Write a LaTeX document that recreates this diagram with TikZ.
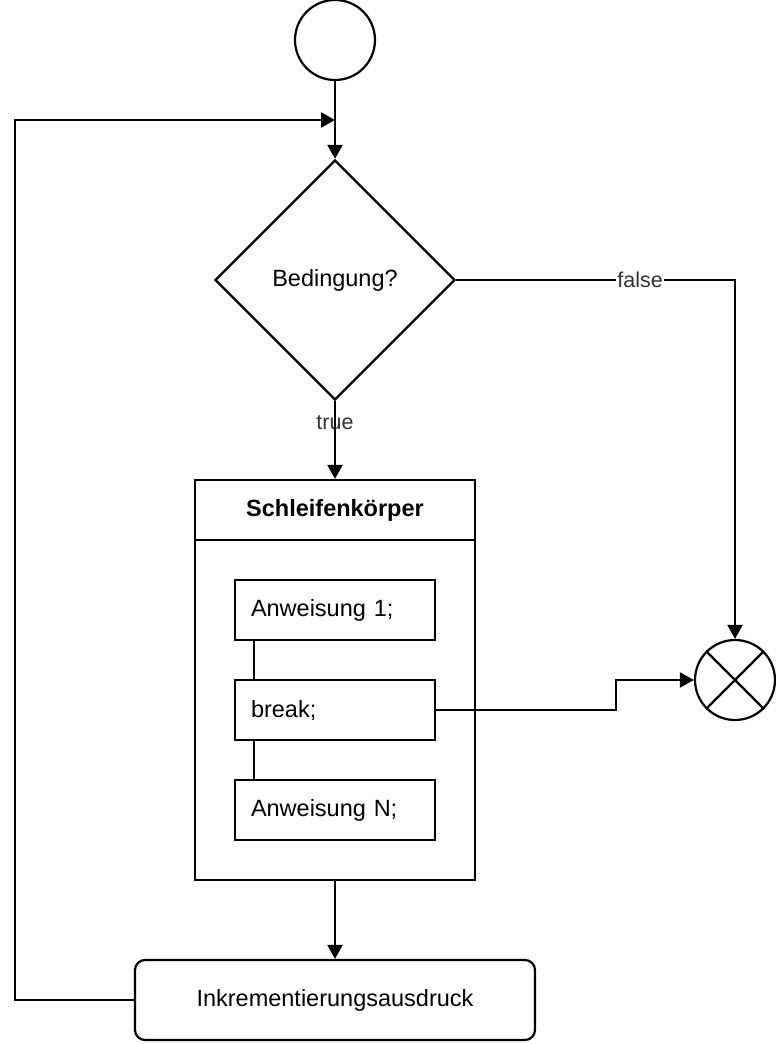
\documentclass[tikz,border=0pt]{standalone}
\usepackage{fontspec}
\setmainfont{Liberation Sans}
\usetikzlibrary{shapes.geometric,arrows.meta}
\tikzset{every node/.style={font=\fontsize{23.5}{28}\selectfont},
         arrow/.style={-{Triangle[length=14pt,width=15pt]}},
         terminal/.style={draw,circle,minimum size=80pt,inner sep=0pt},
         decision/.style={draw,diamond,minimum size=240pt,inner sep=0pt},
         statement/.style={draw,minimum width=200pt,minimum height=60pt,
                           text width=168pt,align=left,inner xsep=16pt},
         process/.style={draw,rounded corners=10pt,minimum width=400pt,minimum height=80pt},
         edgelabel/.style={font=\fontsize{21.5}{26}\selectfont,text=black!80}
         }
\begin{document}
\begin{tikzpicture}[x=1pt,y=-1pt,line width=2.2pt]
\useasboundingbox (0,0) rectangle (776,1044);
% Knoten
\node[terminal] (start) at (335,40) {};
\node[decision] (cond) at (335,280) {Bedingung?};
\node[draw,minimum width=280pt,minimum height=400pt] (body) at (335,680) {};
\node[font=\bfseries\fontsize{23.5}{28}\selectfont] (title) at (335,510) {Schleifenk\"orper};
\node[statement] (first) at (335,610) {Anweisung 1;};
\node[statement] (brk) at (335,710) {break;};
\node[statement] (last) at (335,810) {Anweisung N;};
\node[terminal] (exit) at (735,680) {};
\node[process] (incr) at (335,1000) {Inkrementierungsausdruck};
\coordinate (join) at (335,120);
\coordinate (loop) at (15,120);
% Kopfzeile und Kreuz
\draw (body.west |- 0,540) -- (body.east |- 0,540);
\draw (exit.north west) -- (exit.south east);
\draw (exit.north east) -- (exit.south west);
% Verbindungen
\draw[arrow] (start) -- (cond);
\draw[arrow] (incr.west) -| (loop) -- (join);
\draw[arrow] (cond.east) -| node[pos=0.33,fill=white,inner sep=1pt,edgelabel] {false} (exit.north);
\draw[arrow] (cond.south) -- node[pos=0.28,edgelabel] {true} (body.north);
\draw ([xshift=20pt]first.south west) -- ([xshift=20pt]brk.north west);
\draw ([xshift=20pt]brk.south west) -- ([xshift=20pt]last.north west);
\draw[arrow] (brk.east) -- ++(180,0) |- (exit.west);
\draw[arrow] (body.south) -- (incr.north);
\end{tikzpicture}
\end{document}
